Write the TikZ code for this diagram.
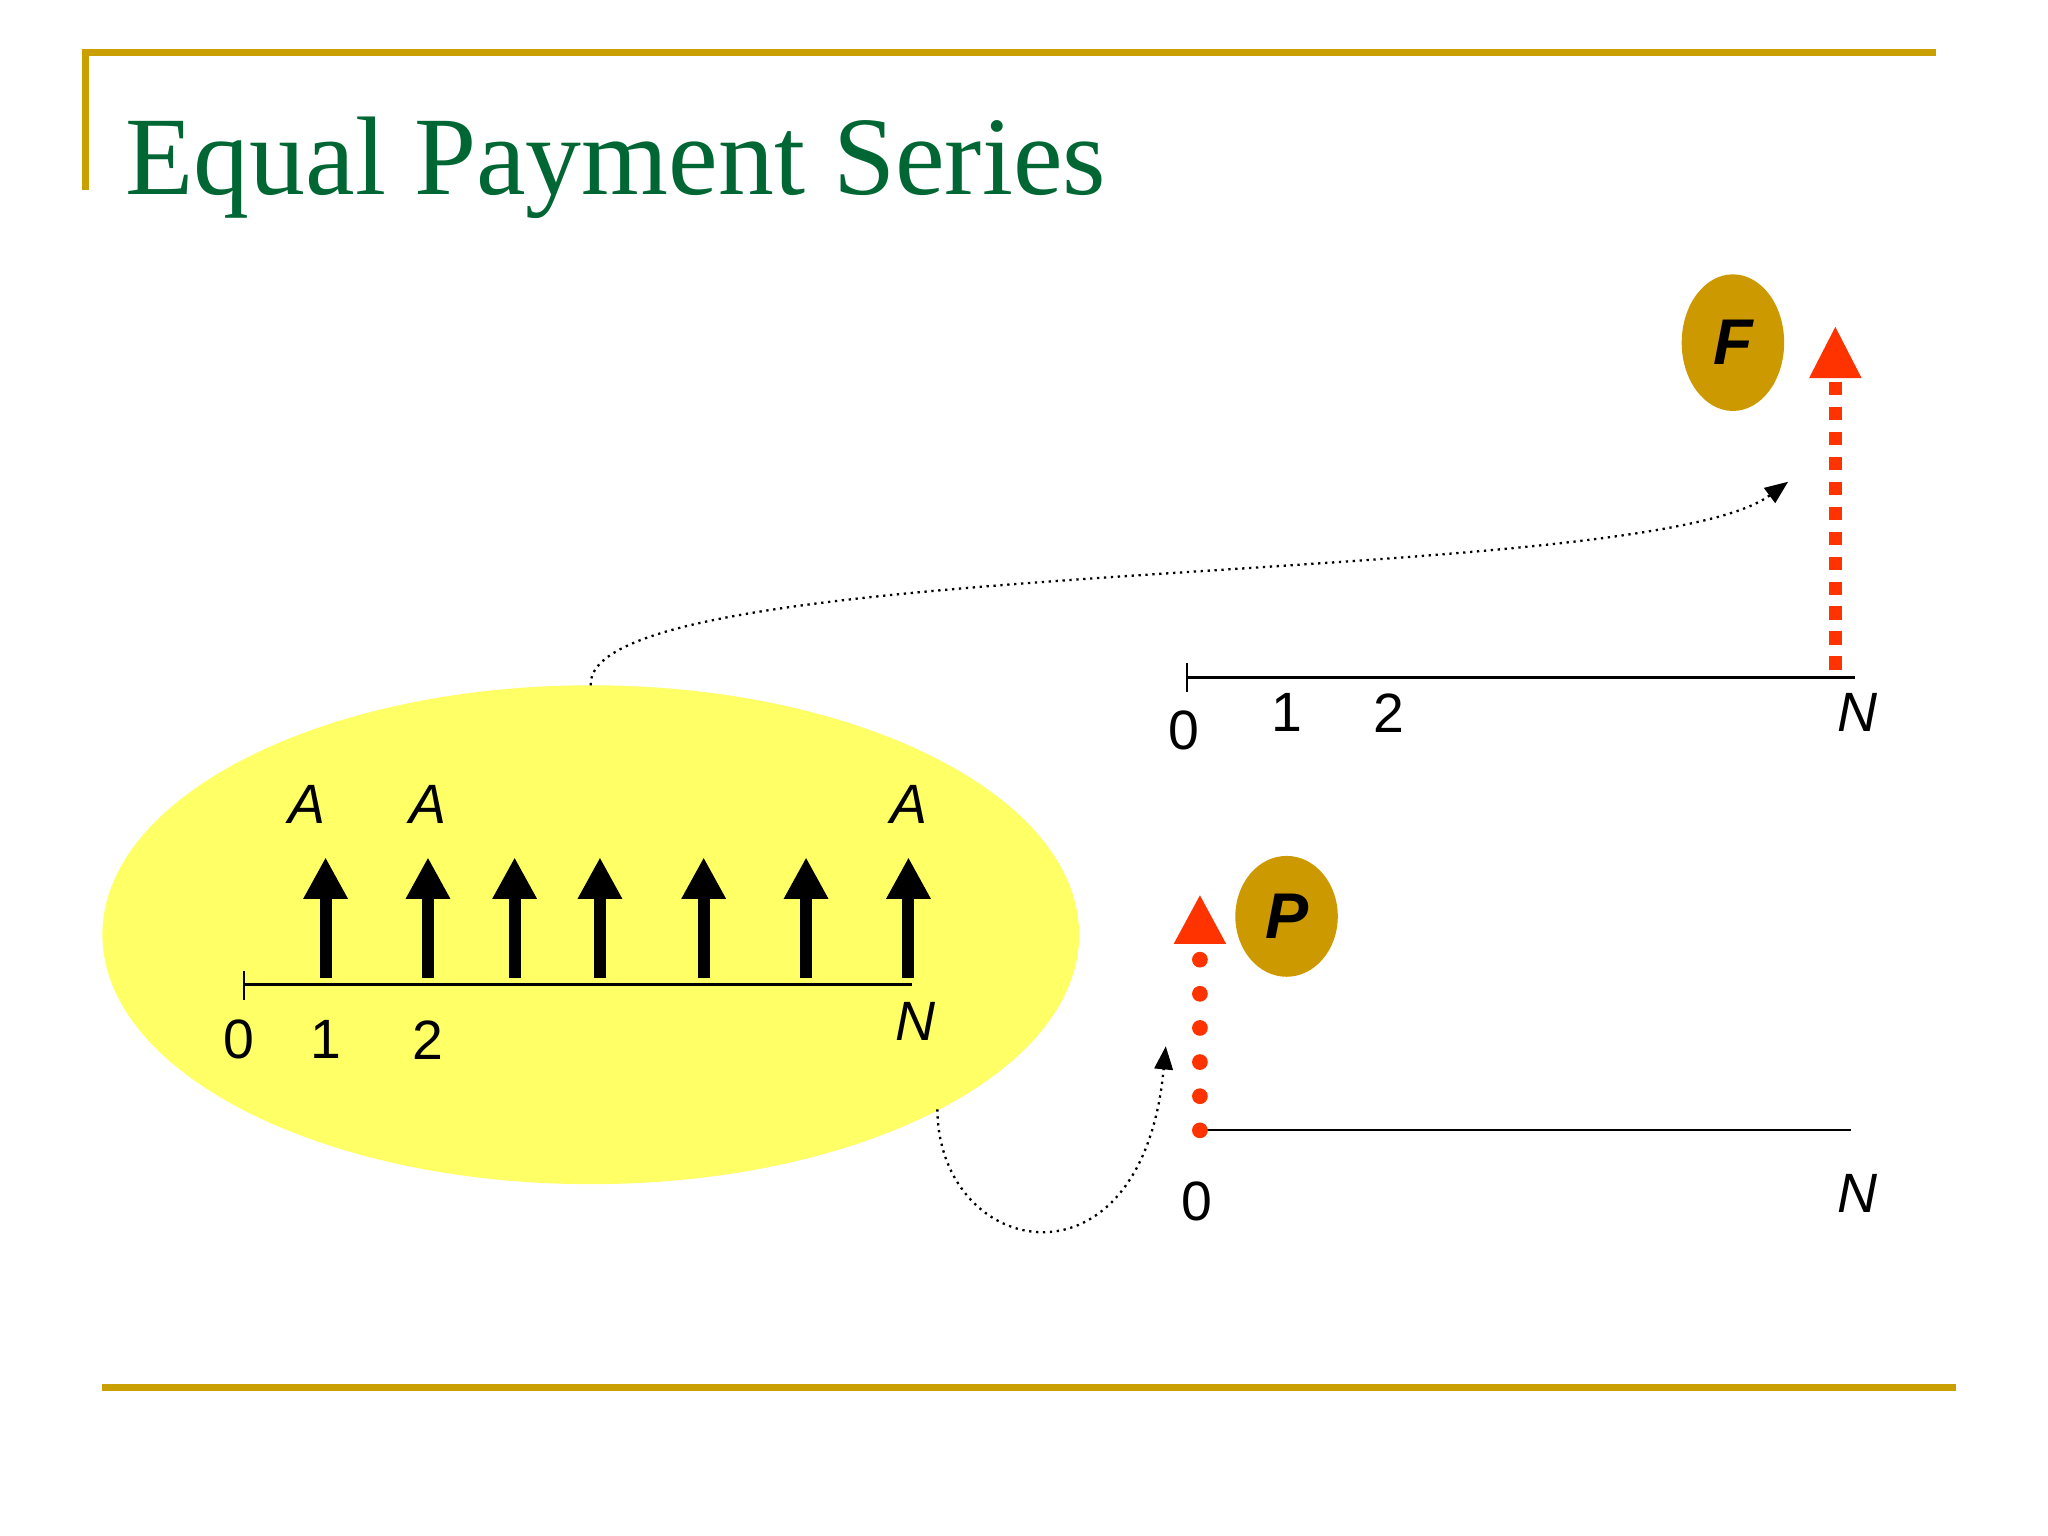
\documentclass[tikz,border=0pt]{standalone}
\usepackage{fontspec}
\setmainfont{Liberation Serif}
\newfontfamily\lsans{Liberation Sans}
\usetikzlibrary{arrows.meta,shapes.geometric}
\definecolor{gold}{HTML}{C9A000}
\definecolor{ttl}{HTML}{006633}
\definecolor{yel}{HTML}{FFFF66}
\definecolor{rd}{HTML}{FF3300}
\definecolor{ball}{HTML}{CC9900}
\begin{document}
\begin{tikzpicture}[x=0.01cm,y=-0.01cm,
  lab/.style={font=\lsans\fontsize{12}{14}\selectfont,inner sep=0pt},
  ilab/.style={lab,font=\lsans\itshape\fontsize{12}{14}\selectfont},
  cf/.style={line width=2.6pt,-{Triangle[width=9pt,length=9pt]}},
  ax/.style={line width=0.5pt},
  ball/.style={ellipse,fill=ball,inner sep=0pt,font=\lsans\bfseries\itshape\fontsize{14}{16}\selectfont},
  link/.style={densely dotted,line width=0.5pt,-{Triangle[width=4pt,length=5pt]}}]
\useasboundingbox (0,0) rectangle (1560,1170);
\draw[gold,line width=1.5pt] (65,145) -- (65,40) -- (1475,40);
\draw[gold,line width=1.5pt] (78,1057) -- (1490,1057);
\node[anchor=base west,text=ttl,font=\fontsize{24.2}{29}\selectfont,inner sep=0pt] (title) at (95,148) {Equal Payment Series};
% yellow ellipse
\fill[yel] (450,712) ellipse [x radius=372,y radius=190];
\coordinate (etop) at (450,522);
\coordinate (ebot) at (714,845);
\draw[ax] (186,740) -- (186,762);
\draw[ax] (186,750) -- (695,750);
\foreach \x/\n in {248/a1,326/a2,392/a3,457/a4,536/a5,614/a6,692/a7}{
  \coordinate (\n b) at (\x,745); \coordinate (\n t) at (\x,653);
  \draw[cf] (\n b) -- (\n t);}
\node[ilab] (A1) at (234,613) {A};
\node[ilab] (A2) at (326,613) {A};
\node[ilab] (A3) at (692,613) {A};
\node[lab] (l0) at (182,792) {0};
\node[lab] (l1) at (248,792) {1};
\node[lab] (l2) at (326,792) {2};
\node[ilab] (lN) at (697,778) {N};
% upper
\draw[ax] (904,505) -- (904,527);
\draw[ax] (904,516) -- (1413,516);
\node[lab] (u0) at (902,556) {0};
\node[lab] (u1) at (980,543) {1};
\node[lab] (u2) at (1058,543) {2};
\node[ilab] (uN) at (1415,543) {N};
\coordinate (fb) at (1398,510); \coordinate (fm) at (1398,287); \coordinate (ft) at (1398,249);
\draw[rd,line width=0.1cm,dash pattern=on 0.1cm off 0.09cm] (fb) -- (fm);
\fill[rd] (1378,288) -- (1418,288) -- (ft) -- cycle;
\node[ball,minimum width=0.78cm,minimum height=1.04cm] (F) at (1320,261) {F};
% lower
\draw[ax] (914,861) -- (1410,861);
\node[lab] (d0) at (912,915) {0};
\node[ilab] (dN) at (1415,909) {N};
\foreach \y in {861,835,809,783,757,731}{\fill[rd] (914,\y) circle (6);}
\fill[rd] (894,719) -- (934,719) -- (914,682) -- cycle;
\node[ball,minimum width=0.78cm,minimum height=0.92cm] (P) at (980,698) {P};
% links
\coordinate (fend) at (1362,367);
\coordinate (pend) at (888,797);
\draw[link] (etop) .. controls (445,420) and (1250,450) .. (fend);
\draw[link] (ebot) .. controls (715,960) and (870,990) .. (pend);
\end{tikzpicture}
\end{document}
